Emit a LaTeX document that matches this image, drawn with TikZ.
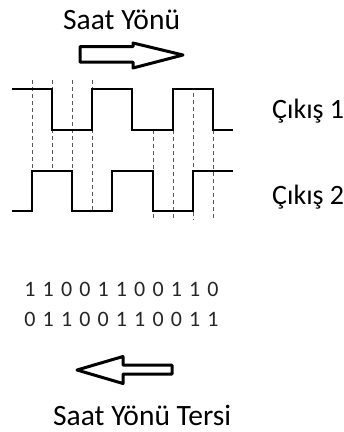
\documentclass[tikz,border=0pt]{standalone}
\usepackage{fontspec}
\setmainfont{Carlito}
\begin{document}
\begin{tikzpicture}[x=1pt,y=-1pt,
  wave/.style={line width=2.5pt, line join=miter, line cap=butt},
  guide/.style={black!65, line width=1pt, dash pattern=on 4pt off 3pt},
  fatarrow/.style={line width=3pt, line join=round, fill=white},
  label/.style={anchor=base west, inner sep=0pt, font=\fontsize{28}{32}\selectfont},
  dirlabel/.style={label, font=\fontsize{29.5}{33}\selectfont},
  bit/.style={anchor=base, inner sep=0pt, text=black!85, font=\fontsize{22}{25}\selectfont}]
\useasboundingbox (0,0) rectangle (344,432);

% direction labels and arrows
\node[dirlabel] (cw) at (63,29) {Saat Yönü};
\draw[fatarrow] (80,46.5) -- (133,46.5) -- (133,43) -- (183,55) -- (133,68) -- (133,62) -- (80,62) -- cycle;

\node[dirlabel] (ccw) at (53,425) {Saat Yönü Tersi};
\draw[fatarrow] (172,365) -- (123,365) -- (123,356.5) -- (77,370) -- (123,383.5) -- (123,374) -- (172,374) -- cycle;

% dashed guides at the edges
\foreach \x/\a/\b in {32/80/171, 52/80/171, 72/80/171, 92/80/211,
                      153/130/220, 173/130/220, 193/93/220, 213/130/220}
  \draw[guide] (\x,\a) -- (\x,\b);

% output waveforms
\draw[wave] (12,89) -- (52,89) -- (52,130) -- (92,130) -- (92,89) -- (132,89) -- (132,130)
  -- (173,130) -- (173,89) -- (213,89) -- (213,130) -- (233,130);
\draw[wave] (12,211) -- (32,211) -- (32,171) -- (72,171) -- (72,211) -- (112,211) -- (112,171)
  -- (153,171) -- (153,211) -- (193,211) -- (193,171) -- (233,171);

\node[label] (out1) at (272,118) {Çıkış 1};
\node[label] (out2) at (272,204) {Çıkış 2};

% bit sequences
\foreach \b [count=\i from 0] in {1,1,0,0,1,1,0,0,1,1,0}
  \node[bit] (ra\i) at (30+18.3*\i,296) {\b};
\foreach \b [count=\i from 0] in {0,1,1,0,0,1,1,0,0,1,1}
  \node[bit] (rb\i) at (30+18.3*\i,326) {\b};
\end{tikzpicture}
\end{document}
